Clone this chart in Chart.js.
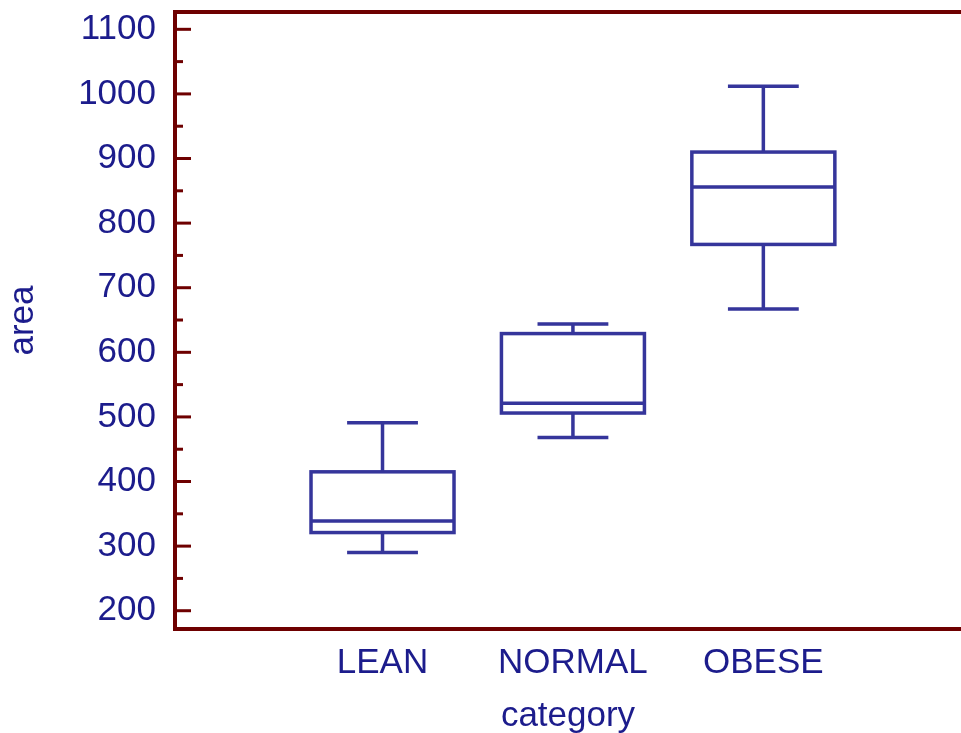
<!DOCTYPE html>
<html>
<head>
<meta charset="utf-8">
<title>area by category</title>
<script src="https://cdn.jsdelivr.net/npm/chart.js@4.4.1/dist/chart.umd.min.js"></script>
<style>
  html, body { margin: 0; padding: 0; background: #fff; }
  #wrap { width: 961px; height: 733px; }
</style>
</head>
<body>
<div id="wrap"><canvas id="boxChart" width="961" height="733"></canvas></div>
<script>
// dữ liệu
const categories = ["LEAN", "NORMAL", "OBESE"];
const mins    = [290, 468, 667];
const q1s     = [321, 506, 767];
const medians = [339, 521, 856];
const q3s     = [415, 629, 910];
const maxs    = [491, 644, 1012];
const yTicks  = [200, 250, 300, 350, 400, 450, 500, 550, 600, 650, 700, 750, 800, 850, 900, 950, 1000, 1050, 1100];

const axisColor = "#6e0000";
const boxColor  = "#35359b";
const textColor = "#1c1c8c";
const fontFamily = "'Liberation Sans', Arial, sans-serif";

// vẽ hộp, râu, vạch chia hướng vào trong
const boxPlugin = {
  id: "boxes",
  afterDraw(chart) {
    const { ctx, chartArea, scales: { x, y } } = chart;
    ctx.save();
    ctx.lineCap = "butt";

    // đường khung phía trên
    ctx.strokeStyle = axisColor;
    ctx.lineWidth = 4;
    ctx.beginPath();
    ctx.moveTo(chartArea.left - 2, chartArea.top);
    ctx.lineTo(chartArea.right, chartArea.top);
    ctx.stroke();

    // vạch chia trục y
    ctx.lineWidth = 3;
    y.ticks.forEach(t => {
      const py = y.getPixelForValue(t.value);
      const len = t.value % 100 === 0 ? 16 : 8;
      ctx.beginPath();
      ctx.moveTo(chartArea.left, py);
      ctx.lineTo(chartArea.left + len, py);
      ctx.stroke();
    });

    // hộp
    ctx.strokeStyle = boxColor;
    ctx.lineWidth = 3.5;
    categories.forEach((c, i) => {
      const cx = x.getPixelForValue(i + 1);
      const half = x.getPixelForValue(i + 1 + 0.3755) - cx;
      const cap = x.getPixelForValue(i + 1 + 0.186) - cx;
      const yMin = y.getPixelForValue(mins[i]);
      const yQ1 = y.getPixelForValue(q1s[i]);
      const yMed = y.getPixelForValue(medians[i]);
      const yQ3 = y.getPixelForValue(q3s[i]);
      const yMax = y.getPixelForValue(maxs[i]);

      ctx.strokeRect(cx - half, yQ3, half * 2, yQ1 - yQ3);

      ctx.beginPath();
      ctx.moveTo(cx - half, yMed); ctx.lineTo(cx + half, yMed);
      // râu trên
      ctx.moveTo(cx, yQ3); ctx.lineTo(cx, yMax);
      ctx.moveTo(cx - cap, yMax); ctx.lineTo(cx + cap, yMax);
      // râu dưới
      ctx.moveTo(cx, yQ1); ctx.lineTo(cx, yMin);
      ctx.moveTo(cx - cap, yMin); ctx.lineTo(cx + cap, yMin);
      ctx.stroke();
    });
    ctx.restore();
  }
};

const ctx = document.getElementById("boxChart").getContext("2d");
new Chart(ctx, {
  type: "scatter",
  data: {
    datasets: [
      {
        label: "median",
        data: categories.map((c, i) => ({ x: i + 1, y: medians[i] })),
        pointRadius: 0,
        pointHoverRadius: 0,
        showLine: false,
      },
    ],
  },
  options: {
    responsive: false,
    animation: false,
    layout: { padding: { top: 12, right: 0, bottom: 0, left: 0 } },
    plugins: {
      legend: { display: false },
      tooltip: { enabled: false },
    },
    scales: {
      x: {
        type: "linear",
        min: -0.0898,
        max: 4.038,
        afterBuildTicks: (scale) => {
          scale.ticks = categories.map((c, i) => ({ value: i + 1 }));
        },
        afterFit: (scale) => {
          scale.height = 104;
          scale.paddingLeft = 0;
          scale.paddingRight = 0;
        },
        grid: { display: true, drawOnChartArea: false, drawTicks: false },
        border: { display: true, color: axisColor, width: 4 },
        ticks: {
          autoSkip: false,
          maxRotation: 0,
          padding: 13,
          color: textColor,
          font: { family: fontFamily, size: 35 },
          callback: (v) => categories[v - 1] || "",
        },
        title: {
          display: true,
          text: "category",
          color: textColor,
          padding: { top: 0, bottom: -4 },
          font: { family: fontFamily, size: 35 },
        },
      },
      y: {
        type: "linear",
        min: 171.7,
        max: 1126.8,
        afterBuildTicks: (scale) => {
          scale.ticks = yTicks.map(v => ({ value: v }));
        },
        afterFit: (scale) => {
          scale.width = 175;
          scale.paddingTop = 0;
          scale.paddingBottom = 0;
        },
        grid: { display: true, drawOnChartArea: false, drawTicks: false },
        border: { display: true, color: axisColor, width: 4 },
        ticks: {
          autoSkip: false,
          padding: 19,
          color: textColor,
          font: { family: fontFamily, size: 35 },
          callback: (v) => (v % 100 === 0 ? String(v) : ""),
        },
        title: {
          display: true,
          text: "area",
          color: textColor,
          padding: { top: 2, bottom: 0 },
          font: { family: fontFamily, size: 35 },
        },
      },
    },
  },
  plugins: [boxPlugin],
});
</script>
</body>
</html>
